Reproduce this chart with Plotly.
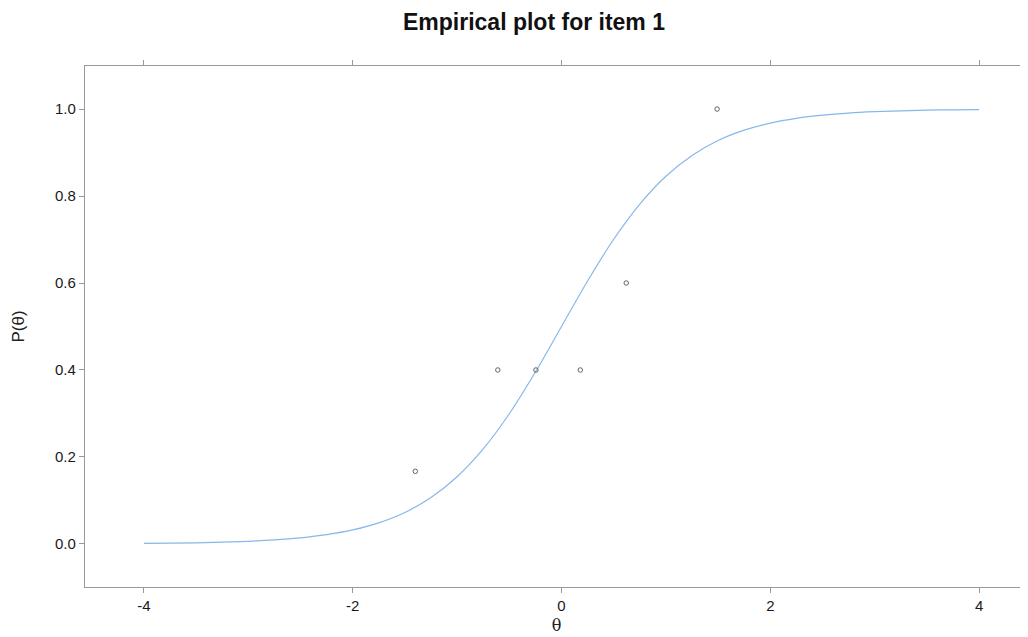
import plotly.graph_objects as go

# Empirical proportions (points)
theta_pts = [-1.40, -0.61, -0.245, 0.18, 0.62, 1.49]
prop_pts = [0.167, 0.40, 0.40, 0.40, 0.60, 1.00]

# Model curve values
theta_curve = [-4.0, -3.75, -3.5, -3.25, -3.0, -2.75, -2.5, -2.25, -2.0, -1.75, -1.5, -1.25,
               -1.0, -0.75, -0.5, -0.25, 0.0, 0.25, 0.5, 0.75, 1.0, 1.25, 1.5, 1.75,
               2.0, 2.25, 2.5, 2.75, 3.0, 3.25, 3.5, 3.75, 4.0]
p_curve = [0.0011, 0.0017, 0.0026, 0.0040, 0.0061, 0.0092, 0.0141, 0.0214, 0.0323, 0.0486,
           0.0724, 0.1067, 0.1545, 0.2184, 0.2994, 0.3953, 0.5000, 0.6047, 0.7006, 0.7816,
           0.8455, 0.8933, 0.9276, 0.9514, 0.9677, 0.9786, 0.9859, 0.9908, 0.9939, 0.9960,
           0.9974, 0.9983, 0.9989]

x_ticks = [-4, -2, 0, 2, 4]
y_ticks = [0.0, 0.2, 0.4, 0.6, 0.8, 1.0]
y_tick_labels = ["0.0", "0.2", "0.4", "0.6", "0.8", "1.0"]

fig = go.Figure()
fig.add_trace(go.Scatter(x=theta_curve, y=p_curve, mode="lines",
                         line=dict(color="#85b8ec", width=1.2, shape="spline"),
                         hoverinfo="skip", showlegend=False))
fig.add_trace(go.Scatter(x=theta_pts, y=prop_pts, mode="markers",
                         marker=dict(symbol="circle-open", size=4.5,
                                     color="#555555", line=dict(width=0.9, color="#555555")),
                         showlegend=False))

font_family = "Liberation Sans, Arial, Helvetica, sans-serif"
W, H = 1020, 629
fig.update_layout(
    width=W, height=H,
    margin=dict(l=77, r=0, t=58, b=50),
    paper_bgcolor="white", plot_bgcolor="white",
    font=dict(family=font_family, color="#222222"),
    title=dict(text="<b>Empirical plot for item 1</b>", x=(534 - 8) / W, xanchor="center",
               y=1 - 14 / H, yanchor="middle",
               font=dict(size=23, color="#111111", family=font_family)),
    xaxis=dict(range=[-4.564, 4.468], tickvals=x_ticks, ticktext=[str(v) for v in x_ticks],
               showgrid=False, zeroline=False, showline=True, linecolor="#999999", linewidth=1.2,
               mirror="ticks", ticks="outside", ticklen=5, tickcolor="#999999", tickwidth=1,
               tickfont=dict(size=15, color="#1a1a1a"),
               title=dict(text="θ", font=dict(size=16, family="DejaVu Serif, serif", color="#222222"),
                          standoff=6)),
    yaxis=dict(range=[-0.099, 1.099], tickvals=y_ticks, ticktext=y_tick_labels,
               showgrid=False, zeroline=False, showline=True, linecolor="#999999", linewidth=1.2,
               mirror=False, ticks="outside", ticklen=5, tickcolor="#999999", tickwidth=1,
               tickfont=dict(size=15, color="#1a1a1a"),
               title=dict(text="P(θ)", font=dict(size=17, color="#222222"), standoff=26)),
)

fig.write_html("out.html")
